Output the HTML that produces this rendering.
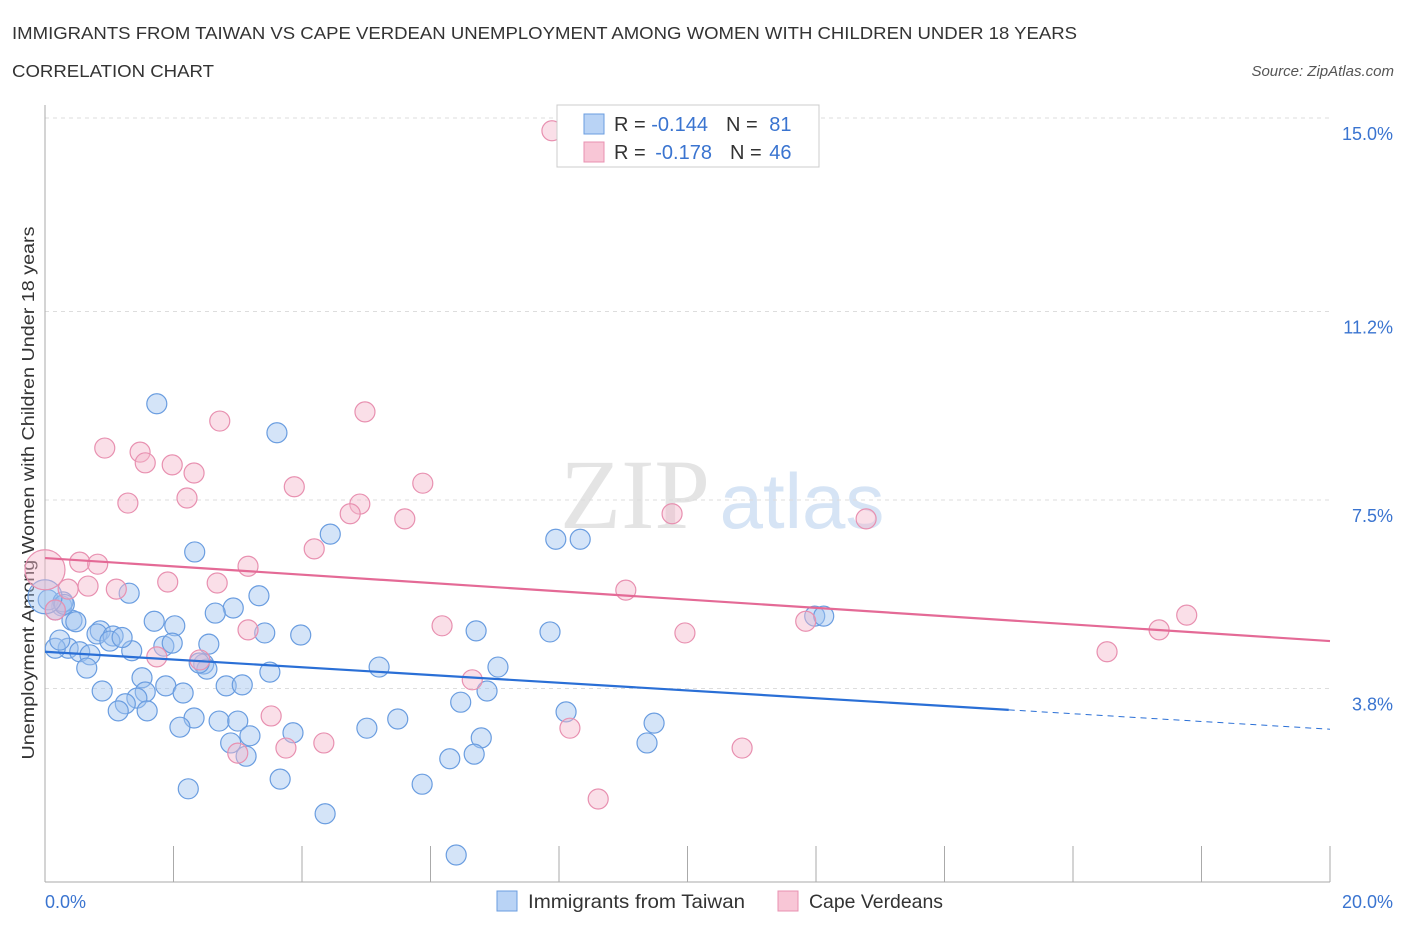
<!DOCTYPE html>
<html><head><meta charset="utf-8"><style>
body{margin:0;background:#fff;font-family:"Liberation Sans",sans-serif}
</style></head><body>
<svg width="1406" height="930" xmlns="http://www.w3.org/2000/svg" id="chart" font-family="Liberation Sans, sans-serif">
<text x="12" y="39" font-size="17.5" fill="#333" textLength="1065" lengthAdjust="spacingAndGlyphs">IMMIGRANTS FROM TAIWAN VS CAPE VERDEAN UNEMPLOYMENT AMONG WOMEN WITH CHILDREN UNDER 18 YEARS</text>
<text x="12" y="77" font-size="17.5" fill="#333" textLength="202" lengthAdjust="spacingAndGlyphs">CORRELATION CHART</text>
<text x="1394" y="76" font-size="15" fill="#555" font-style="italic" text-anchor="end">Source: ZipAtlas.com</text>
<text x="635" y="528" font-size="100" fill="#e4e4e4" font-family="Liberation Serif, serif" text-anchor="middle">ZIP</text>
<text x="802" y="528" font-size="78" fill="#d6e4f5" text-anchor="middle">atlas</text>
<text transform="translate(34,493) rotate(-90)" font-size="17.5" fill="#333" text-anchor="middle" textLength="533" lengthAdjust="spacingAndGlyphs">Unemployment Among Women with Children Under 18 years</text>
<g id="grid"></g><g id="pts"></g><g id="lines"></g>
<g>
<rect x="557" y="105" width="262" height="62" fill="#fff" stroke="#ccc"/>
<rect x="584" y="114" width="20" height="20" fill="#b9d3f5" stroke="#6a9de0"/>
<rect x="584" y="142" width="20" height="20" fill="#f8c6d6" stroke="#e890b0"/>
<text x="614" y="131" font-size="20" fill="#333">R = <tspan fill="#3a74d0">-0.144</tspan><tspan dx="18">N = </tspan><tspan fill="#3a74d0" dx="6">81</tspan></text>
<text x="614" y="159" font-size="20" fill="#333">R = <tspan fill="#3a74d0" dx="4">-0.178</tspan><tspan dx="18">N = </tspan><tspan fill="#3a74d0" dx="2">46</tspan></text>
</g>
<g>
<rect x="497" y="891" width="20" height="20" fill="#b9d3f5" stroke="#6a9de0"/>
<text x="528" y="908" font-size="19.5" fill="#333" textLength="217" lengthAdjust="spacingAndGlyphs">Immigrants from Taiwan</text>
<rect x="778" y="891" width="20" height="20" fill="#f8c6d6" stroke="#e890b0"/>
<text x="809" y="908" font-size="19.5" fill="#333" textLength="134" lengthAdjust="spacingAndGlyphs">Cape Verdeans</text>
</g>
</svg>
<script>
const yTicks=[3.8,7.5,11.2,15.0];
const yTickLabels=["3.8%","7.5%","11.2%","15.0%"];
const xTickLabels=["0.0%","20.0%"];
const blueX=[1.74,3.61,4.44,2.33,7.95,8.33,1.31,3.33,2.93,2.65,1.70,2.02,0.26,0.42,0.86,0.81,1.06,1.01,1.85,1.98,2.55,0.36,0.16,0.54,0.70,2.47,2.52,1.35,3.42,3.98,5.20,6.71,7.86,7.05,6.88,6.47,3.50,0.65,1.51,0.89,1.88,2.15,1.56,1.43,1.25,1.14,1.59,2.82,3.07,2.71,3.00,2.32,2.10,3.19,2.89,3.13,3.86,5.01,5.49,8.11,9.48,9.37,6.79,6.68,6.30,5.87,3.66,2.23,4.36,6.40,11.98,12.12,0.16,0.05,0.23,0.28,0.48,0.30,1.20,2.40,0.0];
const blueY=[9.39,8.82,6.83,6.48,6.73,6.73,5.67,5.62,5.38,5.28,5.12,5.03,5.42,5.14,4.93,4.87,4.83,4.73,4.63,4.69,4.67,4.59,4.59,4.52,4.46,4.28,4.18,4.54,4.89,4.85,4.22,4.93,4.91,4.22,3.75,3.53,4.12,4.20,4.01,3.75,3.85,3.71,3.73,3.61,3.50,3.36,3.36,3.85,3.87,3.16,3.16,3.22,3.04,2.87,2.73,2.47,2.93,3.02,3.20,3.34,3.12,2.73,2.83,2.51,2.42,1.92,2.02,1.83,1.34,0.53,5.22,5.22,5.34,5.54,4.75,5.50,5.11,5.45,4.80,4.30,5.60];
const pinkX=[7.89,4.98,2.72,0.93,1.48,1.56,1.98,2.32,3.88,5.88,1.29,2.21,4.90,4.75,5.60,9.76,12.78,4.19,0.54,0.82,3.16,1.91,2.68,1.11,0.67,0.36,9.04,17.77,11.84,17.34,6.18,9.96,3.16,1.74,2.41,16.53,6.65,3.52,8.17,4.34,3.75,3.00,10.85,8.61,0.16,0.0];
const pinkY=[14.75,9.23,9.05,8.52,8.44,8.23,8.19,8.03,7.76,7.83,7.44,7.54,7.42,7.23,7.13,7.23,7.13,6.54,6.28,6.24,6.20,5.89,5.87,5.75,5.81,5.75,5.73,5.24,5.12,4.95,5.03,4.89,4.95,4.42,4.36,4.52,3.97,3.26,3.02,2.73,2.63,2.53,2.63,1.63,5.34,6.13];
const blueTrend=[4.52,-0.076]; // intercept, slope
const pinkTrend=[6.36,-0.0815];
const X0=45,X1=1330,Y0=882,YT=118;
const sx=v=>X0+(v/20)*(X1-X0);
const sy=v=>Y0-(v/15)*(Y0-YT);
const NS="http://www.w3.org/2000/svg";
function mk(t,a,p){const e=document.createElementNS(NS,t);for(const k in a)e.setAttribute(k,a[k]);p.appendChild(e);return e;}
const grid=document.getElementById('grid');
yTicks.forEach((v,i)=>{
 const l=mk('line',{x1:X0,x2:X1,y1:sy(v),y2:sy(v),stroke:'#ddd','stroke-dasharray':'4,4'},grid);
 
 
 const t=mk('text',{x:1393,y:sy(v)+22,'font-size':18,fill:'#3a74d0','text-anchor':'end'},grid);
 t.textContent=yTickLabels[i];
 
 
});
const ax=mk('line',{x1:X0,x2:X0,y1:105,y2:Y0,stroke:'#aaa'},grid);


const bx=mk('line',{x1:X0,x2:X1,y1:Y0,y2:Y0,stroke:'#aaa'},grid);


for(let i=0;i<=10;i++){
 const t=mk('line',{x1:sx(i*2),x2:sx(i*2),y1:846,y2:Y0,stroke:'#aaa'},grid);
 
 
}
[[0,'start',45],[20,'end',1393]].forEach((d,i)=>{
 const t=mk('text',{x:d[2],y:908,'font-size':18,fill:'#3a74d0','text-anchor':d[1]},grid);
 t.textContent=xTickLabels[i];
 
 
});
const pts=document.getElementById('pts');
blueX.forEach((x,i)=>{
 const c=mk('circle',{cx:sx(x),cy:sy(blueY[i]),r:i==blueX.length-1?17:10,fill:'rgba(160,195,240,0.45)',stroke:'#6a9de0','stroke-width':1.2},pts);
 
 
});
pinkX.forEach((x,i)=>{
 const c=mk('circle',{cx:sx(x),cy:sy(pinkY[i]),r:i==pinkX.length-1?20:10,fill:'rgba(245,185,205,0.45)',stroke:'#e890b0','stroke-width':1.2},pts);
 
 
});
const lines=document.getElementById('lines');
const f=(tr,x)=>tr[0]+tr[1]*x;
const b1=mk('line',{x1:sx(0),y1:sy(f(blueTrend,0)),x2:sx(15),y2:sy(f(blueTrend,15)),stroke:'#2a6fd6','stroke-width':2.2},lines);


const b2=mk('line',{x1:sx(15),y1:sy(f(blueTrend,15)),x2:sx(20),y2:sy(f(blueTrend,20)),stroke:'#2a6fd6','stroke-width':1,'stroke-dasharray':'6,5'},lines);


const p1=mk('line',{x1:sx(0),y1:sy(f(pinkTrend,0)),x2:sx(20),y2:sy(f(pinkTrend,20)),stroke:'#e46a96','stroke-width':2.2},lines);


</script>
</body></html>
